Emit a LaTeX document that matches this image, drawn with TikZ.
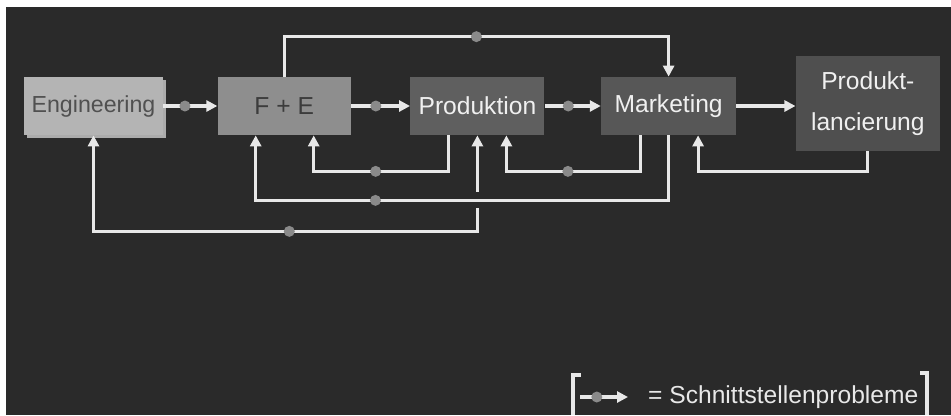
\documentclass[tikz,border=0pt]{standalone}
\usepackage{fontspec}
\setmainfont{Liberation Sans}
\usetikzlibrary{positioning,arrows.meta,shadows}
\definecolor{bgdark}{HTML}{2A2A2A}
\definecolor{linegray}{HTML}{E8E8E8}
\definecolor{dotgray}{HTML}{8A8A8A}
\definecolor{enggray}{HTML}{B4B4B4}
\definecolor{engshade}{HTML}{ABABAB}
\definecolor{engtext}{HTML}{505050}
\definecolor{fegray}{HTML}{8E8E8E}
\definecolor{fetext}{HTML}{3C3C3C}
\definecolor{prodgray}{HTML}{5F5F5F}
\definecolor{markgray}{HTML}{575757}
\definecolor{lancgray}{HTML}{4F4F4F}
\definecolor{unittext}{HTML}{F0F0F0}

\begin{document}
\begin{tikzpicture}
    [>={Triangle[length=0.22cm, width=0.22cm]},
    flow/.style={->, draw=linegray, line width=1.8pt},
    dot/.style={circle, fill=dotgray, inner sep=0pt, minimum size=0.22cm},
    unit/.style={inner sep=0pt, minimum height=1.16cm, align=center,
        font=\fontsize{14}{23}\selectfont}]
    \useasboundingbox (0,0) rectangle (19.02,-8.3);
        %% Background
    \fill[white] (0,0) rectangle (19.02,-8.3);
    \fill[bgdark] (0.11,-0.13) rectangle (19.02,-8.3);

        %% Units
    \node[unit, fill=enggray, text=engtext, minimum width=2.78cm, font=\fontsize{13.2}{16}\selectfont,
        drop shadow={shadow xshift=0.05cm, shadow yshift=-0.05cm, fill=engshade, opacity=1}]
        (eng) at (1.87,-2.12) {Engineering};
    \node[unit, fill=fegray, text=fetext, minimum width=2.66cm, right=1.08cm of eng] (fe) {F + E};
    \node[unit, fill=prodgray, text=unittext, minimum width=2.68cm, right=1.18cm of fe] (prod) {Produktion};
    \node[unit, fill=markgray, text=unittext, minimum width=2.7cm, right=1.12cm of prod] (mark) {Marketing};
    \node[unit, fill=lancgray, text=unittext, minimum width=2.88cm, minimum height=1.9cm,
        right=1.18cm of mark, yshift=0.05cm] (lanc) {Produkt-\\lancierung};

        %% Main flow
    \draw[flow] (eng) -- node[dot, pos=0.4] {} (fe);
    \draw[flow] (fe) -- node[dot, pos=0.42] {} (prod);
    \draw[flow] (prod) -- node[dot, pos=0.42] {} (mark);
    \draw[flow] (mark) -- (mark -| lanc.west);

        %% Feedback
    \draw[flow] (fe.north) -- ++(0,0.8) -| node[dot, pos=0.25] {} (mark.north);
    \draw[flow] ([xshift=-0.58cm]prod.south) -- ++(0,-0.72) -| node[dot, pos=0.27] {} ([xshift=0.59cm]fe.south);
    \draw[flow] ([xshift=-0.57cm]mark.south) -- ++(0,-0.72) -| node[dot, pos=0.27] {} ([xshift=0.58cm]prod.south);
    \draw[flow] (lanc.south) -- ++(0,-0.4) -| ([xshift=0.59cm]mark.south);
    \draw[flow, <->] (prod.south) -- ++(0,-1.92) -| node[dot, pos=0.245] {} (eng.south);
    \draw[flow, preaction={draw=bgdark, line width=0.32cm, -}]
        (mark.south) -- ++(0,-1.3) -| node[dot, pos=0.355] {} ([xshift=-0.57cm]fe.south);

        %% Legend
    \coordinate (key) at (11.6,-7.94);
    \coordinate (keyend) at (12.56,-7.94);
    \node[anchor=west, text=linegray, font=\fontsize{14}{17}\selectfont] (keytext) at (12.84,-7.94) {= Schnittstellenprobleme};
    \draw[flow] (key) -- node[dot, pos=0.35] {} (keyend);
    \draw[linegray, line width=1.8pt] (11.62,-7.5) -| (11.46,-8.3);
    \draw[linegray, line width=1.8pt] (18.4,-7.46) -| (18.54,-8.3);
\end{tikzpicture}
\end{document}
